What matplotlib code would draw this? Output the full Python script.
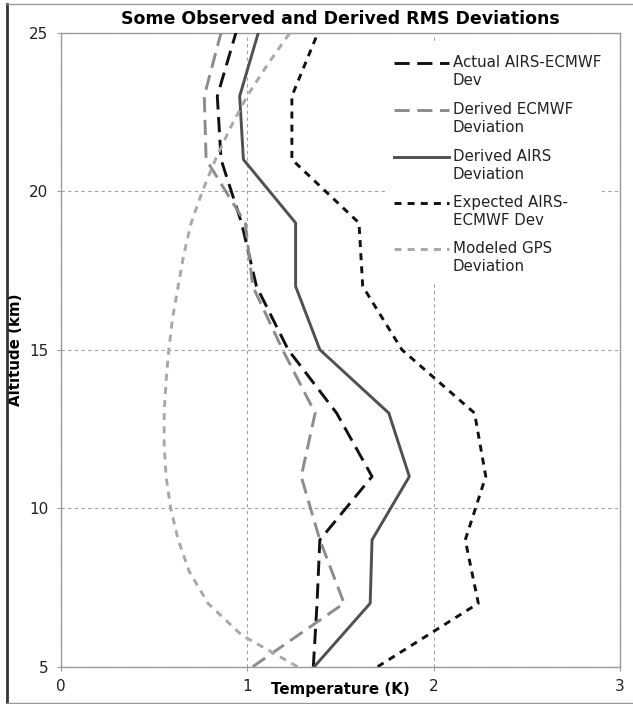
import numpy as np
import matplotlib
matplotlib.use("Agg")
import matplotlib.pyplot as plt
from matplotlib.lines import Line2D
from matplotlib.patches import Rectangle

# altitudes (km) of the profile points
alt = [5, 7, 9, 11, 13, 15, 17, 19, 21, 23, 25]
actual_dev = [1.355, 1.375, 1.39, 1.67, 1.48, 1.22, 1.05, 0.97, 0.86, 0.84, 0.94]
derived_ecmwf = [1.03, 1.52, 1.39, 1.29, 1.365, 1.19, 1.03, 0.99, 0.78, 0.77, 0.86]
derived_airs = [1.36, 1.66, 1.67, 1.87, 1.76, 1.39, 1.26, 1.26, 0.98, 0.96, 1.06]
expected_dev = [1.70, 2.24, 2.17, 2.28, 2.22, 1.83, 1.62, 1.60, 1.24, 1.24, 1.38]

# modeled GPS curve is smoother, read every km
gps_alt = [5, 6, 7, 8, 9, 10, 11, 12, 13, 14, 15, 16, 17, 18, 19, 20, 21, 22, 23, 24, 25]
gps_dev = [1.27, 0.97, 0.79, 0.69, 0.63, 0.59, 0.565, 0.555, 0.555, 0.565, 0.58,
           0.60, 0.63, 0.66, 0.70, 0.76, 0.83, 0.91, 1.0, 1.11, 1.23]

labels = ["Actual AIRS-ECMWF\nDev", "Derived ECMWF\nDeviation", "Derived AIRS\nDeviation",
          "Expected AIRS-\nECMWF Dev", "Modeled GPS\nDeviation"]

W, H = 633, 704
fig = plt.figure(figsize=(W / 100, H / 100), dpi=100)
ax = fig.add_axes([60.7 / W, 1 - 666.7 / H, (620 - 60.7) / W, (666.7 - 32.7) / H])

lw = 2.1
long_dash = (5.2, 2.6)
short_dash = (2.4, 2.1)
styles = [
    dict(color="#111111", dashes=long_dash),
    dict(color="#8c8c8c", dashes=long_dash),
    dict(color="#505050"),
    dict(color="#111111", dashes=short_dash),
    dict(color="#a8a8a8", dashes=short_dash),
]
series = [(actual_dev, alt), (derived_ecmwf, alt), (derived_airs, alt),
          (expected_dev, alt), (gps_dev, gps_alt)]
for (xs, ys), st in zip(series, styles):
    ax.plot(xs, ys, lw=lw, zorder=3, **st)

ax.set_xlim(0, 3)
ax.set_ylim(5, 25)
ax.set_xticks([0, 1, 2, 3])
ax.set_yticks([5, 10, 15, 20, 25])
ax.grid(True, color="#a0a0a0", linestyle=(0, (3, 3)), linewidth=0.8)
for s in ax.spines.values():
    s.set_color("#9a9a9a")
    s.set_linewidth(1.0)
ax.tick_params(colors="#9a9a9a", labelcolor="#222222", labelsize=11, length=3, pad=6)

ax.set_title("Some Observed and Derived RMS Deviations", fontsize=12.5, fontweight="bold", pad=6)
ax.set_xlabel("Temperature (K)", fontsize=10.8, fontweight="bold", labelpad=-9)
ax.set_ylabel("Altitude (km)", fontsize=10.8, fontweight="bold", labelpad=4)

# legend drawn by hand: handle lines up with the first text line, as in the original
fig.add_artist(Rectangle((388 / W, 1 - 283 / H), 214 / W, 240 / H, transform=fig.transFigure,
                         facecolor="white", edgecolor="none", zorder=2))
first_rows = [63, 110, 157, 203, 249]
for lab, st, yy in zip(labels, styles, first_rows):
    fig.add_artist(Line2D([394 / W, 449 / W], [1 - yy / H, 1 - yy / H], transform=fig.transFigure,
                          lw=lw, zorder=4, **st))
    fig.text(453 / W, 1 - (yy - 8) / H, lab, fontsize=10.8, va="top", ha="left",
             color="#222222", linespacing=1.25, zorder=4)

# outer picture frame
fig.add_artist(Line2D([0.011, 0.011], [0.0, 0.995], transform=fig.transFigure, color="#333333", lw=2))
fig.add_artist(Line2D([0.011, 1.0], [0.995, 0.995], transform=fig.transFigure, color="#999999", lw=1))
fig.add_artist(Line2D([0.011, 1.0], [0.002, 0.002], transform=fig.transFigure, color="#999999", lw=1))

fig.savefig("out.png", dpi=100)
